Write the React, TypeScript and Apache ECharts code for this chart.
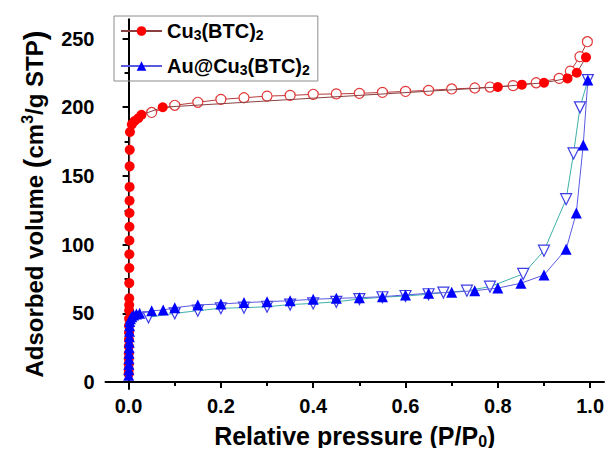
import React, { useEffect, useRef } from "react";
import * as echarts from "echarts";

// Cu3(BTC)2 adsorption (filled circles)
const cuAdsorption: [number, number][] = [
  [0.0002, 6], [0.0003, 9], [0.0004, 13], [0.0005, 17], [0.0006, 21], [0.0007, 26],
  [0.0008, 31], [0.0009, 36], [0.001, 41], [0.0011, 46], [0.0012, 52], [0.0013, 56],
  [0.0014, 61], [0.0015, 72], [0.0016, 83], [0.0017, 93], [0.0018, 103], [0.0019, 113],
  [0.002, 123], [0.0021, 132], [0.0022, 142], [0.0023, 157], [0.0025, 169], [0.003, 182],
  [0.007, 187.5], [0.013, 190], [0.021, 192], [0.028, 194.5], [0.074, 200],
  [0.80, 214.7], [0.852, 216.4], [0.90, 217.8], [0.951, 221], [0.971, 225.1], [0.991, 236.3],
];
// Cu3(BTC)2 desorption (open circles)
const cuDesorption: [number, number][] = [
  [0.994, 247.7], [0.978, 236.8], [0.957, 226.3], [0.933, 221], [0.883, 217.8],
  [0.833, 215.7], [0.783, 214.7], [0.75, 214], [0.70, 213.3], [0.65, 212.3],
  [0.60, 211.5], [0.55, 210.8], [0.50, 210.1], [0.45, 209.7], [0.40, 209.4],
  [0.35, 208.6], [0.30, 208.1], [0.25, 206.9], [0.20, 205.7], [0.15, 203.6],
  [0.10, 201.4], [0.05, 196.2],
];
// Au@Cu3(BTC)2 adsorption (filled up-triangles)
const auAdsorption: [number, number][] = [
  [0.0003, 5], [0.0005, 9], [0.0007, 13], [0.0009, 17], [0.0011, 21], [0.0013, 25],
  [0.0015, 29], [0.0018, 33], [0.002, 37], [0.0023, 41], [0.0026, 44], [0.004, 46],
  [0.007, 47.5], [0.011, 48.8], [0.017, 49.6], [0.024, 50], [0.05, 51.9], [0.075, 52.4],
  [0.10, 54.1], [0.15, 56.1], [0.20, 56.8], [0.25, 57.8], [0.30, 58.5], [0.35, 59.2],
  [0.40, 60.2], [0.45, 60.9], [0.50, 61.4], [0.55, 62.1], [0.60, 63.4], [0.65, 64.6],
  [0.70, 65.3], [0.75, 66.5], [0.80, 68.4], [0.85, 71.9], [0.90, 77.9], [0.948, 96.7],
  [0.97, 123], [0.985, 172.5], [0.995, 219.8],
];
// Au@Cu3(BTC)2 desorption (open down-triangles)
const auDesorption: [number, number][] = [
  [0.995, 219.8], [0.978, 199.9], [0.964, 166.4], [0.948, 133.1], [0.90, 95.6],
  [0.855, 78.7], [0.783, 69.4], [0.733, 66.5], [0.682, 65.1], [0.65, 63.9],
  [0.60, 62.6], [0.55, 61.7], [0.50, 60.4], [0.45, 58.4], [0.40, 57.2], [0.35, 56.4],
  [0.30, 54.8], [0.25, 54.1], [0.20, 53.7], [0.15, 51.9], [0.10, 50], [0.043, 47.1],
];

const xLabelValues = [0, 0.2, 0.4, 0.6, 0.8, 1.0];
const xMinorValues = [0.1, 0.3, 0.5, 0.7, 0.9];
const yLabelValues = [0, 50, 100, 150, 200, 250];
const yMinorValues = [25, 75, 125, 175, 225];

const FONT = "'Liberation Sans', Arial, sans-serif";

export default function App() {
  const ref = useRef<HTMLDivElement>(null);
  useEffect(() => {
    if (!ref.current) return;
    const chart = echarts.init(ref.current, undefined, { renderer: "svg" });
    const xMin = -0.05, xMax = 1.03, yMin = -5, yMax = 264;
    const baseX = { type: "value" as const, min: xMin, max: xMax, splitLine: { show: false } };
    const baseY = { type: "value" as const, min: yMin, max: yMax, splitLine: { show: false } };
    chart.setOption({
      animation: false,
      backgroundColor: "#ffffff",
      grid: { left: 105.5, right: 9, top: 19.3, bottom: 67.1 },
      legend: {
        data: ["Cu3(BTC)2", "Au@Cu3(BTC)2"],
        orient: "vertical",
        left: 114,
        top: 16,
        padding: [5, 8, 4, 6],
        itemGap: 14,
        itemWidth: 41,
        itemHeight: 12,
        borderColor: "#8c8c8c",
        borderWidth: 1,
        formatter: (name: string) =>
          name === "Cu3(BTC)2"
            ? "{n|Cu}{s|3}{n|(BTC)}{s|2}"
            : "{n|Au@Cu}{s|3}{n|(BTC)}{s|2}",
        textStyle: {
          rich: {
            n: { fontSize: 20, fontWeight: "bold", fontFamily: FONT, color: "#000", lineHeight: 22 },
            s: { fontSize: 14, fontWeight: "bold", fontFamily: FONT, color: "#000", lineHeight: 16, verticalAlign: "bottom" },
          },
        },
      },
      xAxis: [
        {
          ...baseX,
          position: "bottom",
          axisLine: { lineStyle: { color: "#000", width: 2 } },
          axisTick: { customValues: xLabelValues, length: 6, lineStyle: { color: "#000", width: 2 } },
          axisLabel: {
            customValues: xLabelValues,
            color: "#000",
            fontSize: 20,
            fontWeight: "bold",
            fontFamily: FONT,
            margin: 7,
            formatter: (v: number) => v.toFixed(1),
          },
          name: "{t|Relative pressure (P/P}{s|0}{t|)}",
          nameLocation: "middle",
          nameGap: 33,
          nameTextStyle: {
            rich: {
              t: { fontSize: 25, fontWeight: "bold", fontFamily: FONT, color: "#000", lineHeight: 28 },
              s: { fontSize: 16, fontWeight: "bold", fontFamily: FONT, color: "#000", lineHeight: 20, verticalAlign: "bottom" },
            },
          },
        },
        {
          ...baseX,
          position: "bottom",
          axisLine: { show: false },
          axisTick: { customValues: xMinorValues, length: 4, lineStyle: { color: "#000", width: 2 } },
          axisLabel: { show: false },
        },
      ],
      yAxis: [
        {
          ...baseY,
          position: "left",
          axisLine: { show: true, lineStyle: { color: "#000", width: 2 } },
          axisTick: { show: true, customValues: yLabelValues, length: 6, lineStyle: { color: "#000", width: 2 } },
          axisLabel: {
            customValues: yLabelValues,
            color: "#000",
            fontSize: 20,
            fontWeight: "bold",
            fontFamily: FONT,
            margin: 11,
          },
          name: "{t|Adsorbed volume }{p|(}{t|cm}{u|3}{t|/g STP}{p|)}",
          nameLocation: "middle",
          nameGap: 56,
          nameTextStyle: {
            rich: {
              t: { fontSize: 24, fontWeight: "bold", fontFamily: FONT, color: "#000", lineHeight: 30 },
              p: { fontSize: 29, fontWeight: "bold", fontFamily: FONT, color: "#000", lineHeight: 30 },
              u: { fontSize: 16, fontWeight: "bold", fontFamily: FONT, color: "#000", lineHeight: 30, verticalAlign: "top" },
            },
          },
        },
        {
          ...baseY,
          position: "left",
          axisLine: { show: false },
          axisTick: { show: true, customValues: yMinorValues, length: 4, lineStyle: { color: "#000", width: 2 } },
          axisLabel: { show: false },
        },
      ],
      series: [
        {
          name: "Cu3(BTC)2 desorption",
          type: "line",
          data: cuDesorption,
          symbol: "circle",
          symbolSize: 10,
          showAllSymbol: true,
          itemStyle: { color: "#ffffff", borderColor: "#e23a3a", borderWidth: 1.2 },
          lineStyle: { color: "#b83a3a", width: 1 },
          z: 2,
        },
        {
          name: "Cu3(BTC)2",
          type: "line",
          data: cuAdsorption,
          symbol: "circle",
          symbolSize: 10,
          showAllSymbol: true,
          itemStyle: { color: "#ff0000", borderColor: "#ff0000", borderWidth: 0 },
          lineStyle: { color: "#8a4040", width: 1 },
          z: 3,
        },
        {
          name: "Au@Cu3(BTC)2 desorption",
          type: "line",
          data: auDesorption,
          symbol: "triangle",
          symbolRotate: 180,
          symbolSize: 11,
          showAllSymbol: true,
          itemStyle: { color: "#ffffff", borderColor: "#3c3ce6", borderWidth: 1.2 },
          lineStyle: { color: "#3fb0a8", width: 1 },
          z: 4,
        },
        {
          name: "Au@Cu3(BTC)2",
          type: "line",
          data: auAdsorption,
          symbol: "triangle",
          symbolSize: 11,
          showAllSymbol: true,
          itemStyle: { color: "#0000ff", borderColor: "#0000ff", borderWidth: 0 },
          lineStyle: { color: "#5a5ae0", width: 1 },
          z: 5,
        },
      ],
    });
    return () => chart.dispose();
  }, []);
  return <div ref={ref} style={{ width: 613, height: 456, margin: -8 }} />;
}
